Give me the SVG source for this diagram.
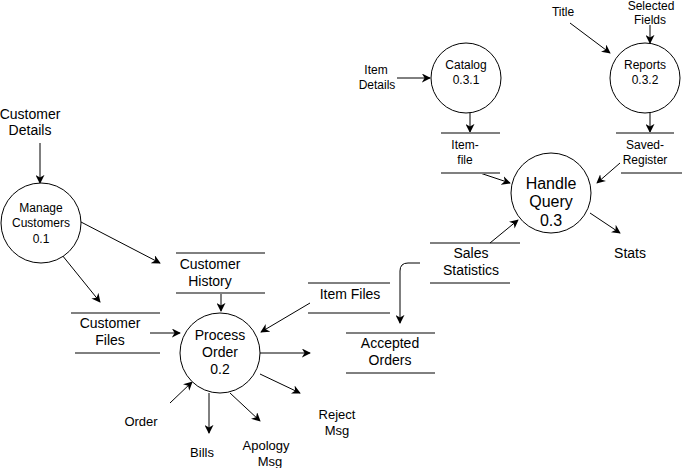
<svg xmlns="http://www.w3.org/2000/svg" width="682" height="468" viewBox="0 0 682 468">
<defs>
<marker id="ah" viewBox="0 0 10 10" refX="9" refY="5" markerWidth="9" markerHeight="9" markerUnits="userSpaceOnUse" orient="auto">
<path d="M0,0 L10,5 L0,10 L3,5 z" fill="#000"/>
</marker>
<style>
text{font-family:"Liberation Sans",Arial,sans-serif;fill:#000;text-anchor:middle}
.p{fill:#fff;stroke:#000;stroke-width:1}
.f{fill:none;stroke:#000;stroke-width:1;marker-end:url(#ah)}
.sb{stroke:#000;stroke-width:1}
.sg{stroke:#808080;stroke-width:2}
.s12{font-size:12px}
.s13{font-size:13px}
.s14{font-size:14px}
.s16{font-size:16px}
</style>
</defs>
<rect width="682" height="468" fill="#fff"/>
<g id="connectors">
<path class="f" d="M40,143 L40,183"/>
<path class="f" d="M81,222 L160,263"/>
<path class="f" d="M62,255 L100,302"/>
<path class="f" d="M221,293 L221,311"/>
<path class="f" d="M150,333 L180,333"/>
<path class="f" d="M310,303 L261,332"/>
<path class="f" d="M260,353 L310,353"/>
<path class="f" d="M260,374 L300,393"/>
<path class="f" d="M230,393 L260,421"/>
<path class="f" d="M209,393 L209,433"/>
<path class="f" d="M170,403 L192,382"/>
<path class="f" d="M420,263 L408,263 Q400,263 400,271 L400,323"/>
<path class="f" d="M490,243 L518,220"/>
<path class="f" d="M590,213 L620,233"/>
<path class="f" d="M397,78 L430,78"/>
<path class="f" d="M470,113 L470,132"/>
<path class="f" d="M480,173 L510,183"/>
<path class="f" d="M570,23 L610,53"/>
<path class="f" d="M650,25 L650,43"/>
<path class="f" d="M650,113 L650,132"/>
<path class="f" d="M620,163 L597,183"/>
</g>
<g id="manage-customers">
<circle class="p" cx="41" cy="223" r="40"/>
<text class="s12" x="41" y="212">Manage</text>
<text class="s12" x="41" y="227">Customers</text>
<text class="s12" x="41" y="243">0.1</text>
</g>
<g id="process-order">
<circle class="p" cx="220" cy="353" r="40"/>
<text class="s14" x="220" y="340">Process</text>
<text class="s14" x="220" y="357">Order</text>
<text class="s14" x="220" y="374">0.2</text>
</g>
<g id="handle-query">
<circle class="p" cx="551" cy="193" r="40"/>
<text class="s16" x="551" y="189">Handle</text>
<text class="s16" x="551" y="207">Query</text>
<text class="s16" x="551" y="226">0.3</text>
</g>
<g id="catalog">
<circle class="p" cx="466" cy="78" r="35"/>
<text class="s12" x="466" y="69">Catalog</text>
<text class="s12" x="466" y="84">0.3.1</text>
</g>
<g id="reports">
<circle class="p" cx="645" cy="78" r="35"/>
<text class="s12" x="645" y="69">Reports</text>
<text class="s12" x="645" y="84">0.3.2</text>
</g>
<g id="customer-history">
<line class="sb" x1="176" y1="253" x2="265" y2="253"/>
<line class="sg" x1="176" y1="293" x2="265" y2="293"/>
<text class="s14" x="210" y="269">Customer</text>
<text class="s14" x="210" y="286">History</text>
</g>
<g id="customer-files">
<line class="sg" x1="71" y1="313" x2="160" y2="313"/>
<line class="sb" x1="75" y1="353" x2="160" y2="353"/>
<text class="s14" x="110" y="328">Customer</text>
<text class="s14" x="110" y="345">Files</text>
</g>
<g id="item-files">
<line class="sb" x1="308" y1="283" x2="390" y2="283"/>
<line class="sg" x1="308" y1="313" x2="390" y2="313"/>
<text class="s14" x="350" y="299">Item Files</text>
</g>
<g id="accepted-orders">
<line class="sg" x1="346" y1="333" x2="435" y2="333"/>
<line class="sb" x1="346" y1="373" x2="435" y2="373"/>
<text class="s14" x="390" y="348">Accepted</text>
<text class="s14" x="390" y="365">Orders</text>
</g>
<g id="sales-statistics">
<line class="sb" x1="430" y1="243" x2="520" y2="243"/>
<line class="sb" x1="430" y1="283" x2="510" y2="283"/>
<text class="s14" x="471" y="258">Sales</text>
<text class="s14" x="471" y="275">Statistics</text>
</g>
<g id="item-file">
<line class="sg" x1="441" y1="133" x2="500" y2="133"/>
<line class="sg" x1="441" y1="173" x2="500" y2="173"/>
<text class="s12" x="465" y="149">Item-</text>
<text class="s12" x="465" y="164">file</text>
</g>
<g id="saved-register">
<line class="sg" x1="616" y1="133" x2="674" y2="133"/>
<line class="sb" x1="621" y1="173" x2="682" y2="173"/>
<text class="s12" x="645" y="149">Saved-</text>
<text class="s12" x="645" y="164">Register</text>
</g>
<g id="labels">
<text class="s14" x="30" y="119">Customer</text>
<text class="s14" x="30" y="135">Details</text>
<text class="s12" x="376" y="74">Item</text>
<text class="s12" x="377" y="89">Details</text>
<text class="s12" x="563" y="16">Title</text>
<text class="s12" x="651" y="10">Selected</text>
<text class="s12" x="650" y="24">Fields</text>
<text class="s14" x="630" y="258">Stats</text>
<text class="s13" x="141" y="426">Order</text>
<text class="s13" x="202" y="457">Bills</text>
<text class="s13" x="266" y="450">Apology</text>
<text class="s13" x="270" y="466">Msg</text>
<text class="s13" x="337" y="419">Reject</text>
<text class="s13" x="337" y="435">Msg</text>
</g>
</svg>
